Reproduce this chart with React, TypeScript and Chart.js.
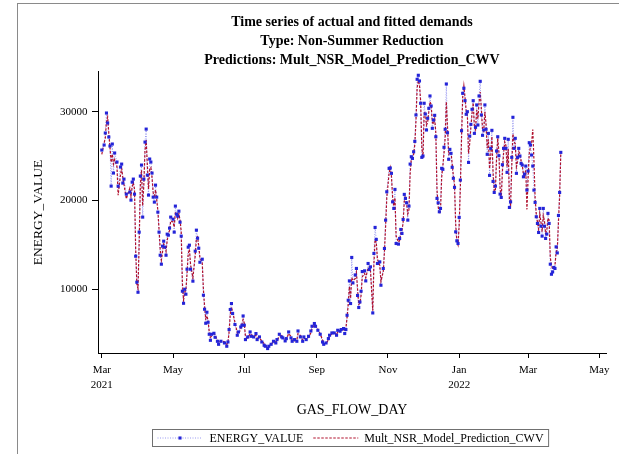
import React, { useEffect, useRef } from "react";
import { Chart, registerables } from "chart.js";

Chart.register(...registerables);

const SERIF = "'Liberation Serif', 'Times New Roman', serif";

const TITLE_LINES = [
  "Time series of actual and fitted demands",
  "Type: Non-Summer Reduction",
  "Predictions: Mult_NSR_Model_Prediction_CWV",
];
const X_TITLE = "GAS_FLOW_DAY";
const Y_TITLE = "ENERGY_VALUE";
const SERIES_ACTUAL = "ENERGY_VALUE";
const SERIES_FIT = "Mult_NSR_Model_Prediction_CWV";

// x axis: days since 2021-03-01
const MONTH_TICK_DAYS = [0, 61, 122, 184, 245, 306, 365, 426];
const MONTH_TICK_LABELS = [["Mar", "2021"], ["May"], ["Jul"], ["Sep"], ["Nov"], ["Jan", "2022"], ["Mar"], ["May"]];
const X_MIN = -3.25;
const X_MAX = 431.7;
const Y_TICKS = [10000, 20000, 30000];
const Y_MIN = 2830;
const Y_MAX = 34470;

// GAS_FLOW_DAY as days since 2021-03-01
const DAYS = [
  0, 2, 3, 4, 5, 6, 7, 8, 9, 10,
  11, 13, 14, 16, 17, 18, 19, 21, 24, 25,
  26, 27, 28, 29, 30, 31, 32, 33, 34, 35,
  36, 37, 38, 39, 40, 41, 42, 43, 44, 45,
  46, 47, 48, 49, 50, 51, 52, 53, 54, 55,
  56, 57, 58, 59, 61, 62, 63, 64, 65, 66,
  67, 68, 69, 70, 71, 72, 73, 74, 75, 76,
  78, 80, 81, 82, 83, 84, 86, 87, 88, 89,
  90, 91, 92, 93, 94, 96, 97, 99, 100, 102,
  105, 107, 108, 109, 110, 111, 112, 114, 116, 117,
  119, 120, 121, 122, 123, 125, 127, 128, 130, 132,
  133, 135, 137, 139, 140, 142, 143, 145, 147, 149,
  150, 152, 154, 155, 157, 158, 160, 162, 163, 165,
  167, 168, 170, 172, 173, 175, 177, 179, 180, 182,
  183, 185, 187, 189, 190, 192, 194, 195, 197, 199,
  201, 202, 204, 205, 207, 208, 209, 210, 211, 212,
  213, 214, 215, 217, 218, 219, 220, 221, 222, 223,
  225, 226, 228, 229, 230, 232, 233, 234, 235, 236,
  238, 239, 241, 242, 243, 244, 246, 247, 248, 249,
  250, 251, 252, 254, 255, 256, 257, 258, 259, 260,
  261, 262, 263,
  264, 265, 266, 267, 268, 269, 270, 271, 272, 273,
  274, 275, 276, 277, 278, 279, 280, 281, 282, 283,
  284, 285, 286, 287, 288, 289, 290, 291, 292, 293,
  294, 295, 296, 297, 298, 299, 300, 301, 302, 303,
  304, 305, 306, 307, 308, 309, 310, 311, 312, 313,
  314, 315, 316, 317, 318, 319, 320, 321, 322, 323,
  324, 325, 326, 327, 328, 329, 330, 331, 332, 333,
  334, 335, 336, 337, 338, 339, 340, 341, 342, 343,
  344, 345, 346, 347, 348, 349, 350, 351, 352, 353,
  354, 355, 356, 357, 358, 359, 360, 361, 362, 363,
  364, 365, 366, 367, 368, 369, 370, 371, 372, 373,
  374, 375, 376, 377, 378, 379, 380, 381, 382, 383,
  384, 385, 386, 387, 388, 389, 390, 391, 392, 393,
];

const ENERGY_VALUE = [
  25680, 26250, 27600, 29850, 28730, 27150, 26140, 21620, 26360, 23090,
  25350, 24330, 21620, 23770, 24100, 21960, 22410, 20720, 20940, 20045,
  22070, 22410, 20720, 13730, 10800, 9670, 16440, 22750, 23990, 18130,
  22410, 26580, 28040, 22860, 20610, 24670, 24330, 23090, 20380, 19820,
  21730, 20380, 18690, 16440, 13840, 12830, 14860, 15420, 14750, 13840,
  16210, 16100, 16890, 18130, 17900, 16440, 19370, 18470, 18240, 18800,
  17560, 15990, 9790, 8430, 10010, 9450, 12270, 14750, 14970, 12270,
  10920, 14300, 16660, 15760, 14630, 13050, 13390, 9340, 7760, 6180,
  7420, 6290, 4940, 4260, 4940, 5050, 4600, 4150, 3810, 4150,
  3960, 3590, 4070, 5470, 7730, 8400, 7280, 6040, 4830, 5200,
  5760, 5960, 7000, 5960, 4340, 4640, 5200, 4710, 4640, 5020,
  4340, 4640, 4070, 3700, 3590, 3330, 3590, 3810, 4150, 3960,
  4340, 4940, 4640, 4530, 4190, 4450, 5200, 4530, 4150, 4340,
  4150, 5310, 4640, 4150, 4640, 4340, 4710, 5310, 5840, 6150,
  5840, 5390, 4940, 4070, 3810, 3960, 4450, 4830, 5090, 5090,
  4830, 5390, 5280, 5470, 5580, 5020, 5470, 7080, 8770, 10950,
  8400, 13590, 10720, 11620, 12350, 9310, 7950, 8580, 9790, 12000,
  12080, 10950, 12910, 12230, 12530, 7340, 14040, 16970, 15620, 12910,
  13090, 10460, 12350, 14600, 17790, 20980, 23620, 23660, 23060, 19850,
  19110, 21250, 15160, 15090, 15730, 16740, 16290, 17870, 20690, 20240,
  19740, 17790, 19370,
  24100, 24930, 24740, 25490, 26660, 29630, 33650, 34100, 33460, 30950,
  24860, 25010, 30950, 29740, 27940, 29260, 30380, 31770, 30640, 28130,
  29060, 29590, 27180, 20240, 19740, 18730, 19110, 23620, 23510, 25990,
  28020, 33120, 27630, 24640, 25760, 25310, 23740, 22500, 21480, 16470,
  15460, 15160, 18100, 22300, 27860, 32070, 32640, 31240, 29710, 30000,
  24290, 27260, 28580, 30270, 31240, 27560, 28240, 30760, 28500, 31770,
  33420, 29630, 27340, 27940, 30760, 28020, 25200, 27560, 22830, 25870,
  27900, 22150, 20910, 21620, 25570, 27180, 25040, 20720, 20350, 24030,
  25870, 27000, 25870, 23170, 26890, 19220, 19850, 24860, 29370, 25870,
  27000, 23060, 24860, 25870, 25010, 24180, 23990, 22670, 22980, 23880,
  21170, 23320, 26510, 26250, 25120, 23880, 21170, 19790, 18170, 17420,
  16400, 19110, 17110, 15990, 19110, 17110, 15730, 16220, 18550, 17420,
  12830, 11700, 11960, 12460, 12350, 14780, 14100, 18320, 20910, 25420,
];

const MULT_NSR_PREDICTION = [
  25200, 26500, 27000, 28900, 29400, 27600, 26000, 24300, 25200, 24100,
  24600, 23800, 20600, 22900, 23600, 22600, 21800, 20200, 21400, 20500,
  21500, 22000, 21300, 14600, 10600, 10100, 15200, 21700, 23400, 19400,
  21800, 25600, 26800, 24000, 21300, 23500, 23700, 22600, 20900, 20300,
  21200, 20100, 18900, 16800, 14500, 13300, 14200, 15100, 14900, 14300,
  15500, 16300, 16600, 17700, 17600, 17000, 18700, 18600, 18000, 18500,
  17800, 16500, 10700, 8800, 9700, 9900, 11800, 14000, 14500, 12800,
  11300, 13800, 15700, 15900, 14900, 13600, 13000, 10000, 8100, 6700,
  7000, 6500, 5200, 4600, 4700, 5200, 4800, 4300, 4000, 4200,
  4100, 3800, 4000, 5200, 7200, 8000, 7500, 6300, 5100, 5000,
  5500, 6100, 6600, 6200, 4700, 4500, 5000, 4900, 4700, 4800,
  4500, 4500, 4200, 3900, 3700, 3500, 3600, 3900, 4000, 4100,
  4200, 4700, 4800, 4600, 4300, 4400, 5000, 4700, 4300, 4200,
  4300, 5000, 4800, 4300, 4500, 4400, 4600, 5100, 5600, 6000,
  5900, 5500, 5000, 4300, 3900, 3900, 4300, 4700, 5000, 5100,
  4900, 5200, 5300, 5400, 5500, 5300, 5600, 6800, 8300, 10300,
  9000, 11300, 11000, 11200, 11900, 10000, 8300, 8400, 9300, 11400,
  11800, 11300, 12400, 12500, 12200, 7600, 12900, 15600, 15300, 13400,
  12700, 10900, 12000, 14200, 17100, 20300, 23100, 23700, 22700, 20400,
  19400, 20300, 16000, 15300, 15500, 16300, 16600, 17500, 19900, 20500,
  19600, 18500, 19000,
  23000, 24600, 24900, 25200, 26300, 29000, 32700, 33500, 33000, 31200,
  26000, 24800, 29800, 30000, 28500, 28800, 30000, 31100, 30800, 28800,
  28600, 29200, 27600, 21200, 19300, 18500, 18900, 22600, 23900, 25300,
  27000, 31100, 28300, 25200, 25300, 25500, 24100, 22800, 21800, 17400,
  15400, 15000, 17200, 21500, 27000, 31600, 32900, 31600, 30100, 29600,
  25300, 26400, 28200, 29800, 31000, 28400, 28000, 30200, 29200, 31000,
  32200, 30300, 28000, 27800, 30000, 28600, 25900, 26900, 23600, 25000,
  27200, 23200, 21000, 21200, 24700, 27000, 25500, 21500, 20200, 23200,
  25300, 26600, 26200, 23800, 25800, 20000, 19500, 23800, 27500, 26600,
  26400, 23800, 24400, 25500, 25300, 24500, 24000, 23000, 22600, 23400,
  19000, 22500, 25300, 26000, 26500, 28000, 24500, 20300, 18500, 17600,
  16800, 18500, 17600, 16500, 18300, 17700, 16300, 16600, 18000, 17800,
  13600, 12700, 12300, 12400, 12700, 14200, 14500, 17600, 20500, 25400,
];

const BLUE = "#2424d8";
const BLUE_LINE = "rgba(120,120,235,0.75)";
const RED = "#b0102c";
const BLUE_DASH = [1, 1.5];
const RED_DASH = [2.5, 1.5];
const MARKER_RADIUS = 2.2;

const sasLegend = {
  id: "sasLegend",
  afterDraw(chart: any) {
    const ctx = chart.ctx as CanvasRenderingContext2D;
    const area = chart.chartArea;
    ctx.save();
    ctx.font = `12px ${SERIF}`;
    ctx.textBaseline = "middle";
    const sample = 45;
    const w1 = ctx.measureText(SERIES_ACTUAL).width;
    const w2 = ctx.measureText(SERIES_FIT).width;
    const pad = 5;
    const total = pad + sample + 7 + w1 + 10 + sample + 6 + w2 + pad;
    const cx = (area.left + area.right) / 2;
    const left = Math.round(cx - total / 2) - 1.5;
    const top = chart.height - 25 + 0.5;
    const h = 17;
    const cy = top + h / 2;
    ctx.strokeStyle = "#707070";
    ctx.lineWidth = 1;
    ctx.setLineDash([]);
    ctx.strokeRect(left, top, total, h);

    let x = left + pad;
    ctx.strokeStyle = BLUE_LINE;
    ctx.setLineDash(BLUE_DASH);
    ctx.beginPath();
    ctx.moveTo(x, cy);
    ctx.lineTo(x + sample, cy);
    ctx.stroke();
    ctx.setLineDash([]);
    ctx.fillStyle = BLUE;
    const s = MARKER_RADIUS * Math.SQRT2;
    ctx.fillRect(x + sample / 2 - s / 2, cy - s / 2, s, s);
    x += sample + 7;
    ctx.fillStyle = "#000";
    ctx.fillText(SERIES_ACTUAL, x, cy + 0.5);
    x += w1 + 10;
    ctx.strokeStyle = RED;
    ctx.setLineDash(RED_DASH);
    ctx.beginPath();
    ctx.moveTo(x, cy);
    ctx.lineTo(x + sample, cy);
    ctx.stroke();
    ctx.setLineDash([]);
    x += sample + 6;
    ctx.fillStyle = "#000";
    ctx.fillText(SERIES_FIT, x, cy + 0.5);
    ctx.restore();
  },
};

export default function App() {
  const ref = useRef<HTMLCanvasElement>(null);
  useEffect(() => {
    const canvas = ref.current;
    if (!canvas) return;
    const actualPts = DAYS.map((d, i) => ({ x: d, y: ENERGY_VALUE[i] }));
    const fitPts = DAYS.map((d, i) => ({ x: d, y: MULT_NSR_PREDICTION[i] }));
    const chart = new Chart(canvas, {
      type: "line",
      data: {
        datasets: [
          {
            label: SERIES_ACTUAL + " markers",
            data: actualPts,
            showLine: false,
            pointStyle: "rect",
            pointRadius: MARKER_RADIUS,
            pointBackgroundColor: BLUE,
            pointBorderColor: BLUE,
            pointBorderWidth: 0,
            order: 0,
          },
          {
            label: SERIES_FIT,
            data: fitPts,
            borderColor: RED,
            borderWidth: 1.2,
            borderDash: RED_DASH,
            pointRadius: 0,
            tension: 0,
            order: 1,
          },
          {
            label: SERIES_ACTUAL,
            data: actualPts,
            borderColor: BLUE_LINE,
            borderWidth: 1,
            borderDash: BLUE_DASH,
            pointRadius: 0,
            tension: 0,
            order: 2,
          },
        ],
      } as any,
      options: {
        animation: false,
        responsive: false,
        events: [],
        layout: { padding: { left: 0, right: 13, top: 0, bottom: 29 } },
        plugins: {
          legend: { display: false },
          tooltip: { enabled: false },
          title: {
            display: true,
            text: TITLE_LINES,
            fullSize: false,
            color: "#000",
            font: { family: SERIF, size: 14, weight: "bold", lineHeight: 1.3714 },
            padding: { top: 12.3, bottom: 2.1 },
          },
        },
        scales: {
          x: {
            type: "linear",
            min: X_MIN,
            max: X_MAX,
            afterBuildTicks: (s: any) => {
              s.ticks = MONTH_TICK_DAYS.map((v) => ({ value: v }));
            },
            afterFit: (s: any) => {
              s.height = 72;
              s.paddingLeft = 0;
              s.paddingRight = 0;
            },
            ticks: {
              autoSkip: false,
              maxRotation: 0,
              minRotation: 0,
              padding: 5,
              color: "#000",
              font: { family: SERIF, size: 11, lineHeight: 1.318 },
              callback: (_v: any, i: number) => MONTH_TICK_LABELS[i],
            },
            grid: { drawOnChartArea: false, drawTicks: true, tickLength: 5, color: "#000" },
            border: { display: true, color: "#000", width: 1 },
            title: {
              display: true,
              text: X_TITLE,
              color: "#000",
              font: { family: SERIF, size: 14, lineHeight: 1.2 },
              padding: { top: 0, bottom: 5.8 },
            },
          },
          y: {
            type: "linear",
            min: Y_MIN,
            max: Y_MAX,
            afterBuildTicks: (s: any) => {
              s.ticks = Y_TICKS.map((v) => ({ value: v }));
            },
            afterFit: (s: any) => {
              s.width = 98;
              s.paddingTop = 0;
              s.paddingBottom = 0;
            },
            ticks: {
              padding: 4.5,
              color: "#000",
              font: { family: SERIF, size: 11 },
              callback: (v: any) => String(v),
            },
            grid: { drawOnChartArea: false, drawTicks: true, tickLength: 6, color: "#000" },
            border: { display: true, color: "#000", width: 1 },
            title: {
              display: true,
              text: Y_TITLE,
              color: "#000",
              font: { family: SERIF, size: 13.5, lineHeight: 1.2 },
              padding: { top: 29.9, bottom: 0 },
            },
          },
        },
      } as any,
      plugins: [sasLegend],
    });
    return () => chart.destroy();
  }, []);

  return (
    <div style={{ position: "fixed", left: 0, top: 0, width: 619, height: 454, background: "#fff", overflow: "hidden" }}>
      <div
        style={{
          position: "absolute",
          left: 17,
          top: 3,
          width: 700,
          height: 600,
          borderLeft: "1px solid #8a8a8a",
          borderTop: "1px solid #8a8a8a",
          pointerEvents: "none",
        }}
      />
      <canvas ref={ref} width={619} height={454} style={{ position: "absolute", left: 0, top: 0, display: "block" }} />
    </div>
  );
}
